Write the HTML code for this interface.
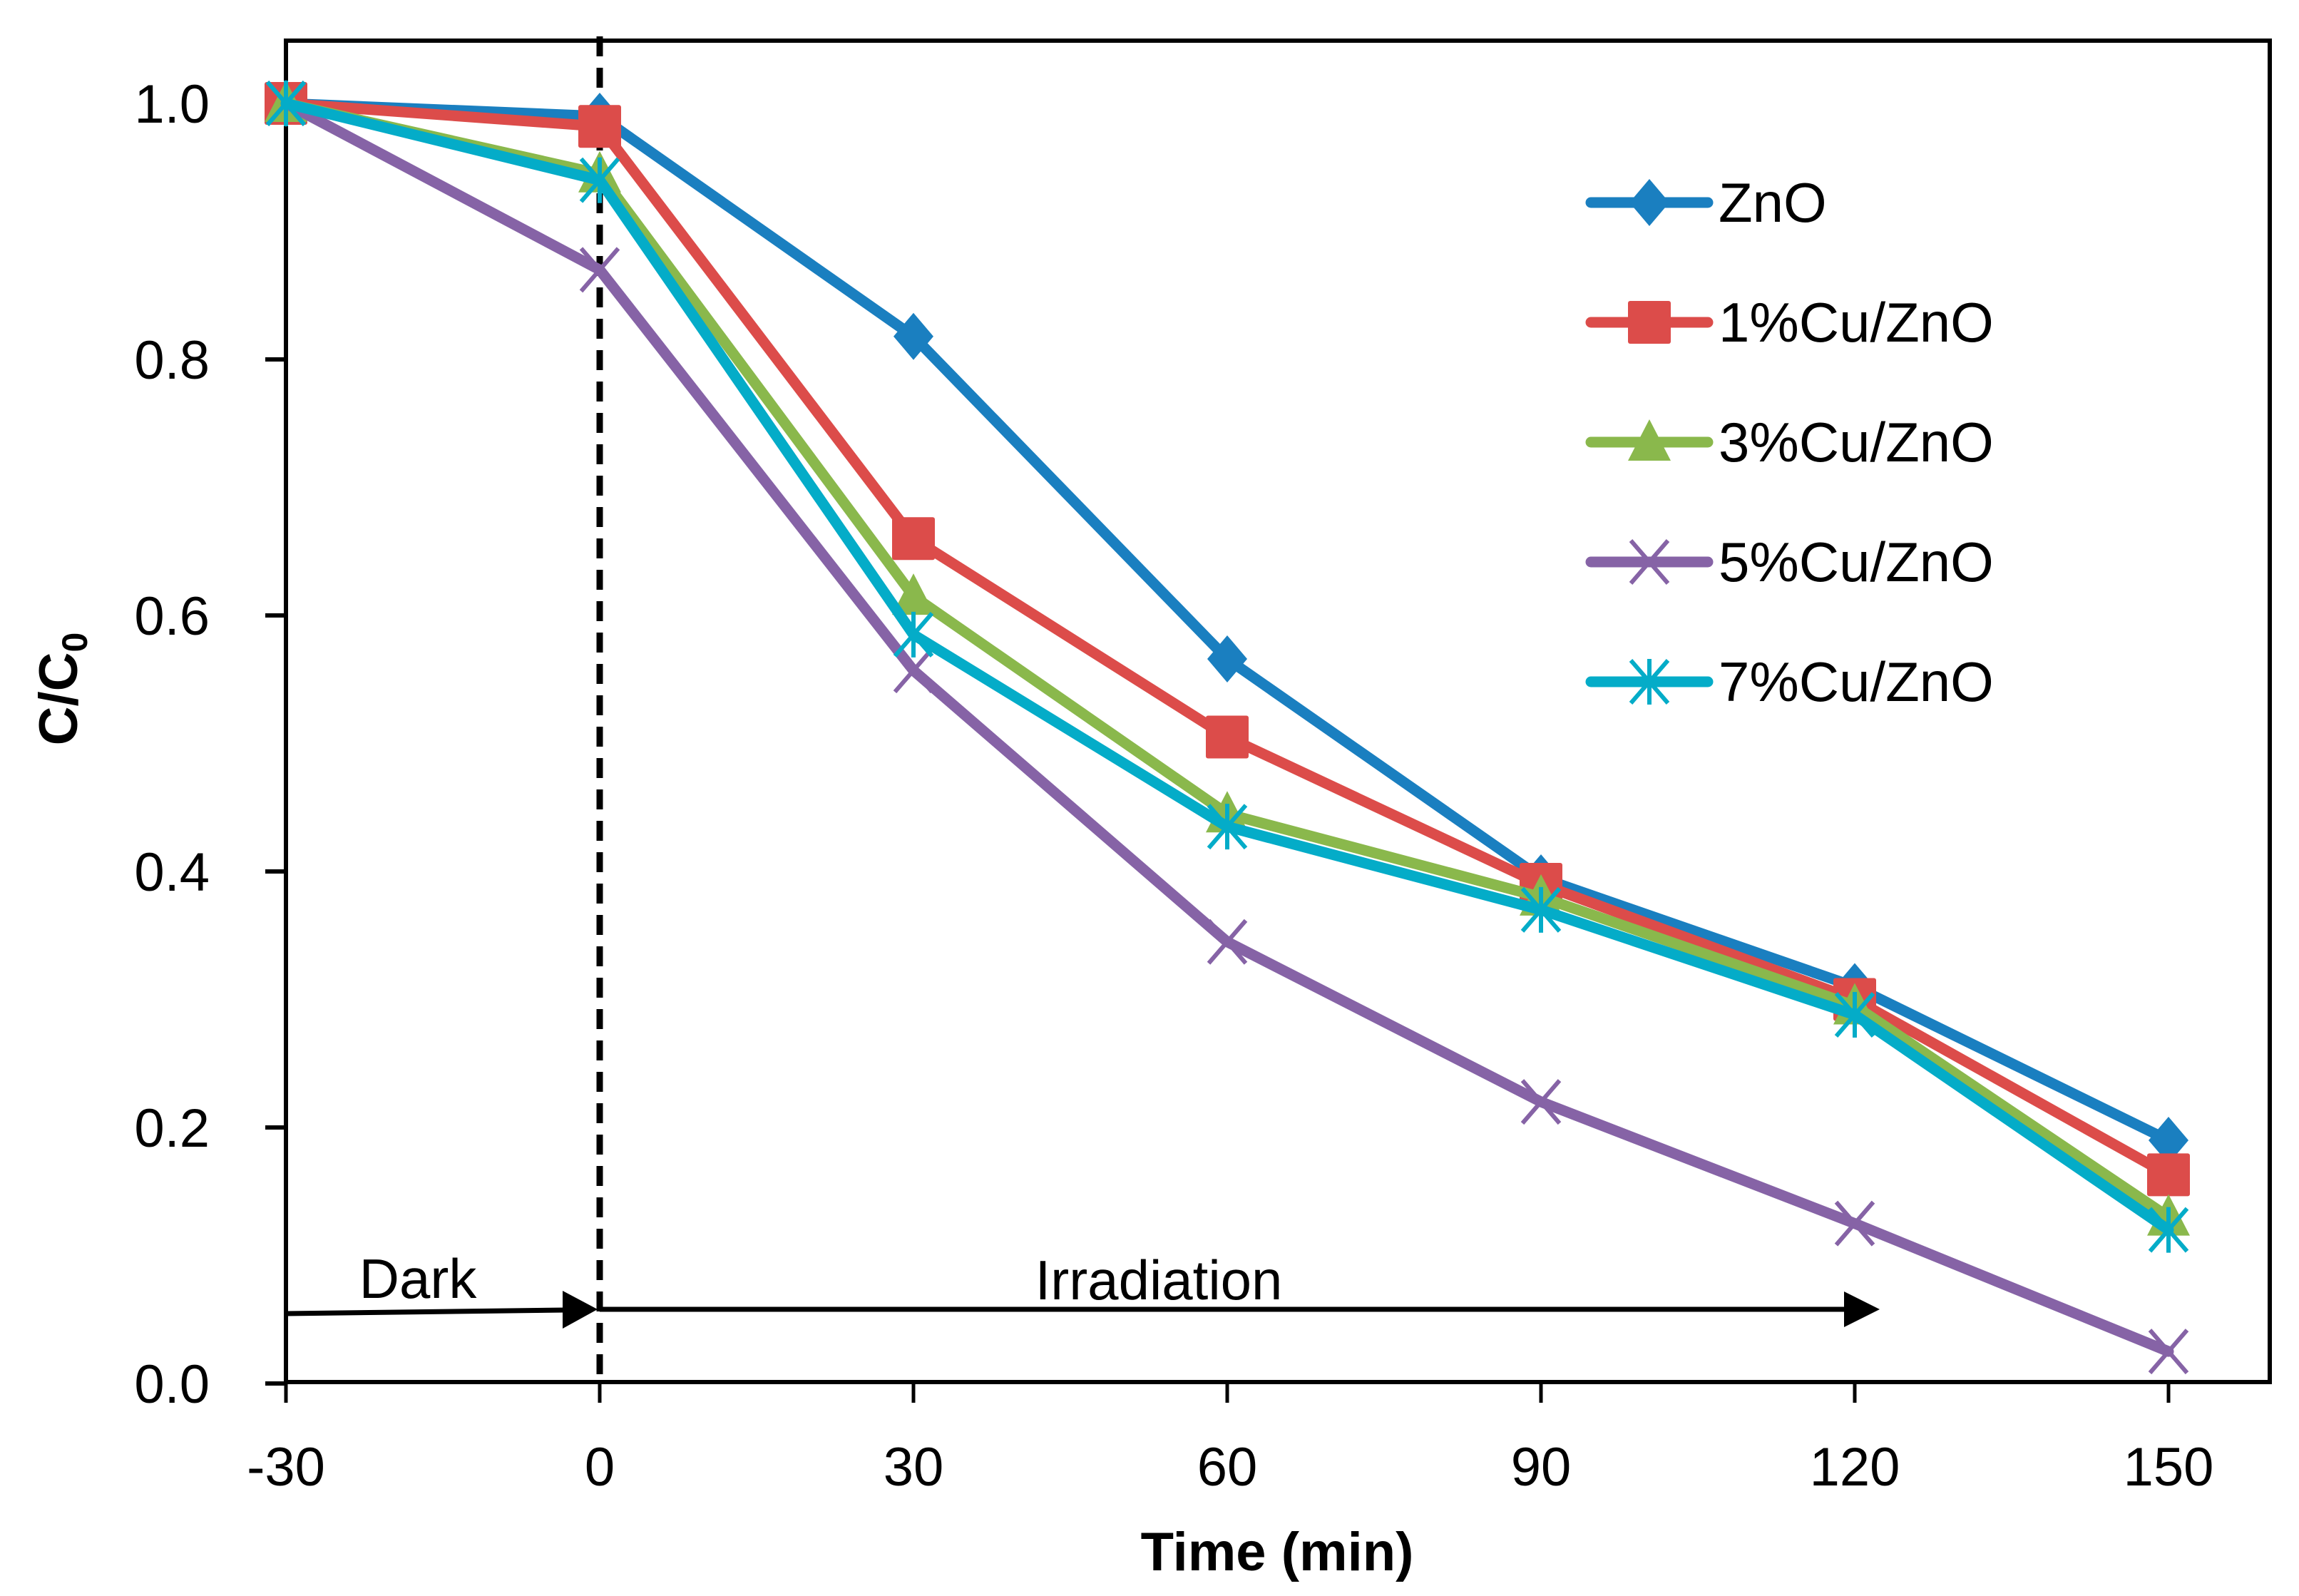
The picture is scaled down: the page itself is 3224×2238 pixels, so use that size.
<!DOCTYPE html>
<html><head><meta charset="utf-8"><style>
html,body{margin:0;padding:0;background:#fff;}
svg{display:block;font-family:"Liberation Sans",sans-serif;}
</style></head><body>
<svg id="chart" width="3224" height="2238" viewBox="0 0 3224 2238" xmlns="http://www.w3.org/2000/svg">
<g id="plot"></g>
</svg>
<script>
const categories = [-30, 0, 30, 60, 90, 120, 150];
const seriesNames = ["ZnO", "1%Cu/ZnO", "3%Cu/ZnO", "5%Cu/ZnO", "7%Cu/ZnO"];
const znoValues = [1.0, 0.99, 0.818, 0.566, 0.395, 0.31, 0.19];
const cu1Values = [1.0, 0.982, 0.66, 0.505, 0.39, 0.30, 0.163];
const cu3Values = [1.0, 0.945, 0.615, 0.445, 0.38, 0.295, 0.13];
const cu5Values = [1.0, 0.87, 0.557, 0.345, 0.22, 0.125, 0.025];
const cu7Values = [1.0, 0.94, 0.585, 0.435, 0.37, 0.288, 0.12];
const yTickLabels = ["0.0", "0.2", "0.4", "0.6", "0.8", "1.0"];
const xTickLabels = ["-30", "0", "30", "60", "90", "120", "150"];

const NS = "http://www.w3.org/2000/svg";
const g = document.getElementById("plot");
const L = 401, R = 3183, T = 57, B = 1938;
function xs(v){ return 401 + (v + 30) * (440 / 30); }
function ys(v){ return 1940 - v * 1795; }
function el(tag, attrs, parent){
  const e = document.createElementNS(NS, tag);
  for (const k in attrs) e.setAttribute(k, attrs[k]);
  (parent || g).appendChild(e);
  return e;
}
function txt(s, attrs, parent){ const e = el("text", attrs, parent); e.textContent = s; return e; }

// frame
const frame = el("rect", {x:L, y:T, width:R-L, height:B-T, fill:"none", stroke:"#000", "stroke-width":6});



// y ticks
yTickLabels.forEach(function(lab){
  const v = parseFloat(lab), y = ys(v);
  const t = el("line", {x1:372, x2:L, y1:y, y2:y, stroke:"#000", "stroke-width":6});
  
  
  const l = txt(lab, {x:294, y:y+27, "text-anchor":"end", "font-size":76});
  
  
});
// x ticks
xTickLabels.forEach(function(lab){
  const x = xs(parseFloat(lab));
  const t = el("line", {x1:x, x2:x, y1:B, y2:1967, stroke:"#000", "stroke-width":5});
  
  
  const l = txt(lab, {x:x, y:2083, "text-anchor":"middle", "font-size":76});
  
  
});
// axis titles
const xt = txt("Time (min)", {x:1791, y:2202, "text-anchor":"middle", "font-size":76, "font-weight":"bold"});


const yt = el("text", {x:0, y:0, "text-anchor":"middle", "font-size":76, "font-weight":"bold", transform:"translate(108,966) rotate(-90)"});
yt.innerHTML = 'C/C<tspan font-size="50" dy="14">0</tspan>';



// dashed divider
const dash = el("line", {x1:xs(0), x2:xs(0), y1:51, y2:B, stroke:"#000", "stroke-width":9, "stroke-dasharray":"28 16"});



// arrows
const a1 = el("line", {x1:L, y1:1842, x2:xs(0)-48, y2:1837, stroke:"#000", "stroke-width":7});


const h1 = el("polygon", {points:(xs(0)-3)+",1836 "+(xs(0)-52)+",1810 "+(xs(0)-52)+",1863", fill:"#000"});


const a2 = el("line", {x1:xs(0), y1:1836, x2:2590, y2:1836, stroke:"#000", "stroke-width":7});


const h2 = el("polygon", {points:"2636,1836 2586,1811 2586,1861", fill:"#000"});


const dk = txt("Dark", {x:586, y:1820, "text-anchor":"middle", "font-size":78});


const ir = txt("Irradiation", {x:1625, y:1822, "text-anchor":"middle", "font-size":78});



const colors = ["#1a7fc0", "#dc4c4a", "#8ab84c", "#8663a6", "#04acc8"];
const allValues = [znoValues, cu1Values, cu3Values, cu5Values, cu7Values];
const markerTypes = ["diamond", "square", "triangle", "x", "star"];

function marker(type, x, y, c, parent){
  let m;
  if (type === "diamond") m = el("polygon", {points:x+","+(y-33)+" "+(x+28)+","+y+" "+x+","+(y+33)+" "+(x-28)+","+y, fill:c}, parent);
  else if (type === "square") m = el("rect", {x:x-30, y:y-30, width:60, height:60, fill:c, rx:3}, parent);
  else if (type === "triangle") m = el("polygon", {points:x+","+(y-32)+" "+(x+30)+","+(y+26)+" "+(x-30)+","+(y+26), fill:c}, parent);
  else if (type === "x") m = el("path", {d:"M"+(x-26)+","+(y-30)+"L"+(x+26)+","+(y+30)+"M"+(x-26)+","+(y+30)+"L"+(x+26)+","+(y-30), stroke:c, "stroke-width":6, fill:"none"}, parent);
  else m = el("path", {d:"M"+(x-26)+","+(y-30)+"L"+(x+26)+","+(y+30)+"M"+(x-26)+","+(y+30)+"L"+(x+26)+","+(y-30)+"M"+x+","+(y-32)+"L"+x+","+(y+32), stroke:c, "stroke-width":6, fill:"none"}, parent);
  
  
  return m;
}

allValues.forEach(function(vals, i){
  const sg = el("g", {});
  
  
  const pts = vals.map(function(v, j){ return xs(categories[j]) + "," + ys(v); }).join(" ");
  const pl = el("polyline", {points:pts, fill:"none", stroke:colors[i], "stroke-width":15, "stroke-linejoin":"round", "stroke-linecap":"round"}, sg);
  
  
  vals.forEach(function(v, j){ marker(markerTypes[i], xs(categories[j]), ys(v), colors[i], sg); });

  // legend
  const ly = 284 + i * 168;
  const lg = el("g", {});
  
  
  const ll = el("line", {x1:2231, x2:2395, y1:ly, y2:ly, stroke:colors[i], "stroke-width":15, "stroke-linecap":"round"}, lg);
  
  
  marker(markerTypes[i], 2313, ly, colors[i], lg);
  const lt = txt(seriesNames[i], {x:2410, y:ly+27, "font-size":78}, lg);
  
  
});
</script>
</body></html>
